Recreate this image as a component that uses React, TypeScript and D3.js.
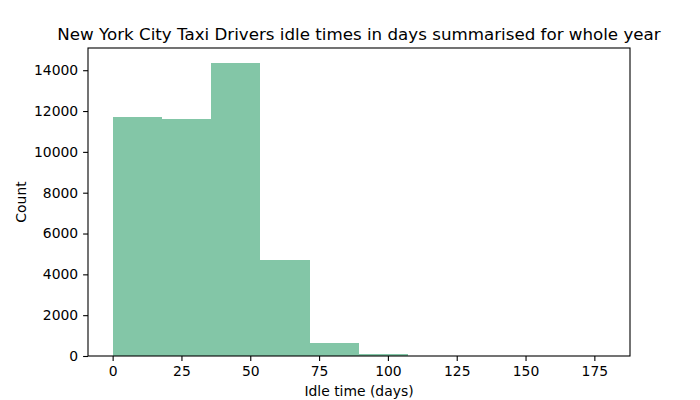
import { useEffect, useRef } from "react";
import * as d3 from "d3";

// histogram: 10 bins over 0..179 days
const binStart = 0;
const binWidth = 17.9;
const counts = [11720, 11630, 14370, 4710, 645, 112, 10, 4, 2, 1];
const xTicks = [0, 25, 50, 75, 100, 125, 150, 175];
const yTicks = [0, 2000, 4000, 6000, 8000, 10000, 12000, 14000];

const W = 700;
const H = 400;

export default function App() {
  const ref = useRef<SVGSVGElement>(null);

  useEffect(() => {
    if (!ref.current) return;
    const svg = d3.select(ref.current);
    svg.selectAll("*").remove();

    const m = { left: 88, right: 70, top: 48, bottom: 44 };
    const innerW = W - m.left - m.right;
    const innerH = H - m.top - m.bottom;
    const font = "DejaVu Sans, sans-serif";

    const lo = binStart;
    const hi = binStart + binWidth * counts.length;
    const pad = (hi - lo) * 0.05;
    const ymax = d3.max(counts)! * 1.05;

    const x = d3.scaleLinear().domain([lo - pad, hi + pad]).range([0, innerW]);
    const y = d3.scaleLinear().domain([0, ymax]).range([innerH, 0]);

    const g = svg.append("g").attr("transform", `translate(${m.left},${m.top})`);

    const bins = counts.map((c, i) => ({ x0: binStart + i * binWidth, x1: binStart + (i + 1) * binWidth, c }));

    g.selectAll("rect.bar")
      .data(bins)
      .enter()
      .append("rect")
      .attr("class", "bar")
      .attr("x", (d) => x(d.x0))
      .attr("width", (d) => x(d.x1) - x(d.x0))
      .attr("y", (d) => y(d.c))
      .attr("height", (d) => innerH - y(d.c))
      .attr("fill", "#83c6a7")
      .attr("shape-rendering", "crispEdges");

    const xa = g.append("g")
      .attr("transform", `translate(0,${innerH})`)
      .call(d3.axisBottom(x).tickValues(xTicks).tickSize(4.9).tickPadding(4.9).tickFormat(d3.format("d")));
    const ya = g.append("g")
      .call(d3.axisLeft(y).tickValues(yTicks).tickSize(4.9).tickPadding(4.9).tickFormat(d3.format("d")));

    [xa, ya].forEach((a) => {
      a.select(".domain").remove();
      a.selectAll("line").attr("stroke", "#000").attr("stroke-width", 1.1);
      a.selectAll("text").attr("fill", "#000").attr("font-size", "13.9px").attr("font-family", font);
    });

    g.append("rect")
      .attr("width", innerW)
      .attr("height", innerH)
      .attr("fill", "none")
      .attr("stroke", "#000")
      .attr("stroke-width", 1.1);

    svg.append("text")
      .attr("x", m.left + innerW / 2)
      .attr("y", m.top - 8)
      .attr("text-anchor", "middle")
      .attr("font-family", font)
      .attr("font-size", "16.7px")
      .text("New York City Taxi Drivers idle times in days summarised for whole year");

    svg.append("text")
      .attr("x", m.left + innerW / 2)
      .attr("y", H - 4)
      .attr("text-anchor", "middle")
      .attr("font-family", font)
      .attr("font-size", "13.9px")
      .text("Idle time (days)");

    svg.append("text")
      .attr("transform", `translate(26,${m.top + innerH / 2}) rotate(-90)`)
      .attr("text-anchor", "middle")
      .attr("font-family", font)
      .attr("font-size", "13.9px")
      .text("Count");
  }, []);

  return (
    <svg
      ref={ref}
      width={W}
      height={H}
      style={{ position: "absolute", left: 0, top: 0, background: "#fff" }}
    />
  );
}
